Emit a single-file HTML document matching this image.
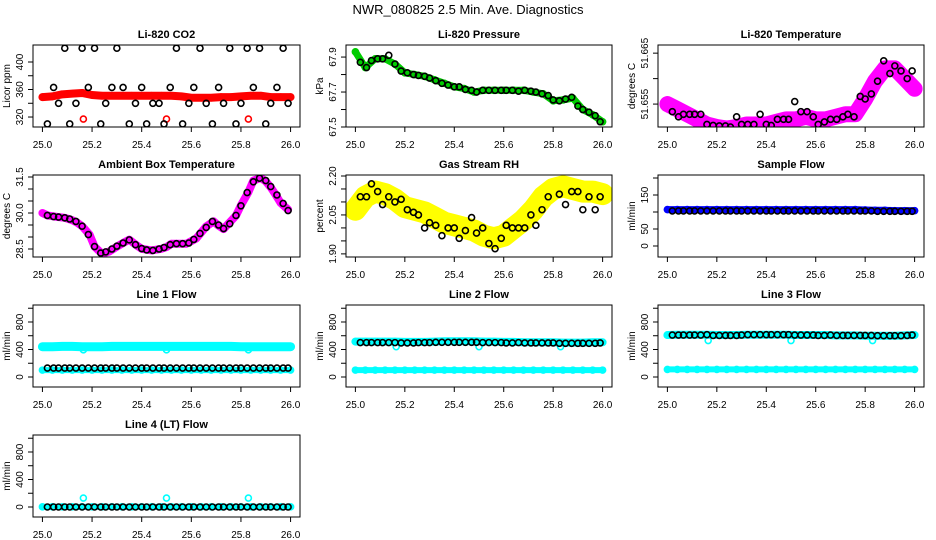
<!DOCTYPE html>
<html><head><meta charset="utf-8"><style>
html,body{margin:0;padding:0;background:#fff;}
svg{display:block;font-family:"Liberation Sans",sans-serif;}
</style></head><body>
<svg id="chart" width="936" height="540" viewBox="0 0 936 540" xmlns="http://www.w3.org/2000/svg">
<text x="468" y="14" text-anchor="middle" font-size="13">NWR_080825  2.5 Min. Ave. Diagnostics</text>
</svg>
<script>
// shared x values (days)
const cT = [25.00,25.04,25.08,25.12,25.16,25.20,25.24,25.28,25.32,25.36,25.40,25.44,25.48,25.52,25.56,25.60,25.64,25.68,25.72,25.76,25.80,25.84,25.88,25.92,25.96,26.00];
const blackT = [25.02,25.045,25.065,25.09,25.11,25.135,25.16,25.185,25.21,25.235,25.255,25.28,25.30,25.325,25.35,25.375,25.40,25.42,25.445,25.47,25.49,25.515,25.54,25.565,25.59,25.61,25.635,25.66,25.685,25.71,25.73,25.755,25.78,25.80,25.825,25.85,25.875,25.90,25.92,25.945,25.97,25.99];
const xTicks = [25.0,25.2,25.4,25.6,25.8,26.0];
const xTickLabels = ["25.0","25.2","25.4","25.6","25.8","26.0"];
const outlierT = [25.165,25.50,25.83];

// CO2
const co2Red = [349,350,353,354,355,352,351,351,351,351,351,351,351,351,350,348,348,348,349,349,350,351,351,349,349,349];
const co2RedOut = [317,317,317];
const co2Black = [310,363,340,420,310,340,420,363,420,310,340,363,420,363,310,340,363,310,340,340,310,363,420,310,340,363,420,340,310,363,340,420,310,340,420,363,420,310,340,363,420,340];
// Pressure
const presGreen = [67.93,67.84,67.89,67.89,67.86,67.81,67.80,67.79,67.77,67.75,67.73,67.72,67.70,67.71,67.71,67.71,67.71,67.71,67.70,67.69,67.65,67.655,67.665,67.60,67.57,67.53];
const presBlack = [67.87,67.84,67.88,67.89,67.89,67.91,67.86,67.82,67.81,67.80,67.795,67.79,67.78,67.765,67.75,67.74,67.73,67.73,67.715,67.71,67.70,67.71,67.71,67.71,67.71,67.71,67.71,67.705,67.71,67.705,67.70,67.69,67.68,67.655,67.65,67.66,67.67,67.62,67.60,67.585,67.565,67.53];
// Li-820 temperature
const ltMag = [51.655,51.654,51.653,51.652,51.651,51.6505,51.6502,51.6505,51.651,51.651,51.651,51.6515,51.652,51.652,51.6525,51.652,51.652,51.6525,51.653,51.653,51.656,51.6595,51.662,51.662,51.660,51.658];
const ltBlack = [51.6535,51.6525,51.653,51.653,51.653,51.653,51.651,51.6508,51.6507,51.6507,51.6505,51.6525,51.651,51.651,51.651,51.653,51.651,51.6508,51.652,51.652,51.652,51.6555,51.6535,51.6535,51.6525,51.651,51.6515,51.652,51.652,51.6525,51.653,51.6525,51.6565,51.656,51.657,51.6595,51.6635,51.661,51.6625,51.6615,51.660,51.6615];
// Ambient box temperature
const ambT = [25.00,25.02,25.05,25.09,25.12,25.14,25.16,25.19,25.21,25.24,25.27,25.30,25.33,25.35,25.38,25.40,25.44,25.48,25.50,25.52,25.58,25.62,25.64,25.66,25.69,25.71,25.73,25.75,25.78,25.80,25.83,25.85,25.88,25.90,25.92,25.94,25.96,25.99];
const ambMag = [30.0,29.9,29.85,29.8,29.7,29.6,29.45,29.1,28.6,28.3,28.4,28.6,28.78,28.89,28.65,28.51,28.44,28.51,28.58,28.72,28.72,28.94,29.19,29.44,29.65,29.47,29.33,29.56,29.89,30.32,30.87,31.35,31.46,31.32,31.07,30.76,30.42,30.14];
const ambBlack = [29.9,29.85,29.83,29.8,29.75,29.65,29.45,29.1,28.6,28.33,28.38,28.5,28.62,28.75,28.88,28.68,28.52,28.46,28.44,28.5,28.56,28.68,28.72,28.72,28.75,28.9,29.15,29.4,29.65,29.5,29.35,29.55,29.9,30.3,30.85,31.3,31.45,31.35,31.1,30.75,30.4,30.1];
// Gas stream RH
const rhYel = [2.07,2.12,2.14,2.13,2.11,2.08,2.07,2.06,2.04,2.02,2.01,2.00,1.99,1.97,1.96,1.97,2.00,2.03,2.07,2.12,2.15,2.16,2.15,2.14,2.14,2.13];
const rhBlack = [2.12,2.12,2.17,2.14,2.09,2.12,2.10,2.11,2.07,2.06,2.05,2.00,2.02,2.01,1.97,2.00,2.00,1.96,1.99,2.04,1.98,2.00,1.94,1.92,1.96,2.01,2.00,2.00,2.00,2.05,2.01,2.07,2.12,2.24,2.13,2.09,2.14,2.14,2.07,2.12,2.07,2.12];
// Sample flow
const sfBlue = [107,107,107,107,107,107,107,107,107,107,107,107,107,107,107,107,107,107,107,107,106,105,105,104,104,104];
const sfBlack = [103,103,103,103,103,103,103,103,103,103,103,103,103,103,103,103,103,103,103,103,103,103,103,103,103,103,103,103,103,103,103,103,103,103,103,102,102,102,102,102,102,102];
// Line flows
const l1CyanHi = [440,440,445,445,440,440,440,445,445,445,445,445,445,445,445,445,445,445,445,445,440,440,440,440,440,440];
const l1CyanLo = [100,100,100,100,100,100,100,100,100,100,100,100,100,100,100,100,100,100,100,100,100,100,100,100,100,100];
const l1CyanOut = [395,395,395];
const l1Black = Array.from(blackT, () => 0).map((_, i) => [130,130,130,130,130,130,130,130,130,130,130,130,130,130,130,130,130,130,130,130,130,130,130,130,130,130,130,130,130,130,130,130,130,130,130,130,130,130,130,130,130,130][i]);
const l2CyanHi = [515,515,515,515,515,510,510,510,515,520,520,520,520,515,515,510,510,505,505,505,505,500,500,500,505,505];
const l2CyanLo = [100,100,100,100,100,100,100,100,100,100,100,100,100,100,100,100,100,100,100,100,100,100,100,100,100,100];
const l2CyanOut = [440,440,440];
const l2Black = [500,500,500,500,500,500,500,495,495,495,500,500,500,505,505,505,505,505,505,505,505,500,500,500,500,495,495,500,495,495,495,495,495,495,490,490,490,490,490,490,490,495];
const l3CyanHi = [610,615,615,615,615,610,610,610,615,615,615,615,615,610,610,610,610,605,605,605,600,600,600,600,605,610];
const l3CyanLo = [110,110,110,110,110,110,110,110,110,110,110,110,110,110,110,110,110,110,110,110,110,110,110,110,110,110];
const l3CyanOut = [530,530,530];
const l3Black = [610,610,610,610,610,610,615,605,605,605,605,605,610,615,615,615,615,615,615,615,615,610,610,610,610,605,605,610,605,605,605,605,605,605,605,600,600,600,600,600,605,610];
const l4Cyan = [2,2,2,2,2,2,2,2,2,2,2,2,2,2,2,2,2,2,2,2,2,2,2,2,2,2];
const l4CyanOut = [130,130,130];
const l4Black = [0,0,0,0,0,0,0,0,0,0,0,0,0,0,0,0,0,0,0,0,0,0,0,0,0,0,0,0,0,0,0,0,0,0,0,0,0,0,0,0,0,0];

const NS = "http://www.w3.org/2000/svg";
const svg = document.getElementById("chart");
function mk(tag, attrs, parent) {
  const e = document.createElementNS(NS, tag);
  for (const k in attrs) e.setAttribute(k, attrs[k]);
  (parent || svg).appendChild(e);
  return e;
}
const cols = [[33,300],[346,612],[658,924]];
const rows = [[45,127],[175,257],[305,387],[435,517]];

function panel(p) {
  const [x0, x1] = cols[p.col], [y0, y1] = rows[p.row];
  const g = mk("g", {});
  
  
  const xs = v => x0 + (v - 24.962) / (26.038 - 24.962) * (x1 - x0);
  const ys = v => y1 - (v - p.ymin) / (p.ymax - p.ymin) * (y1 - y0);
  const t = mk("text", {x: (x0 + x1) / 2, y: y0 - 7, "text-anchor": "middle", "font-size": 11, "font-weight": "bold"}, g);
  t.textContent = p.title;
  
  
  const clip = mk("clipPath", {id: "c" + p.name}, g);
  mk("rect", {x: x0, y: y0, width: x1 - x0, height: y1 - y0}, clip);
  const pg = mk("g", {"clip-path": "url(#c" + p.name + ")"}, g);
  p.series.forEach(s => {
    const pts = s.t.map((tv, i) => [xs(tv), ys(s.v[i])]);
    if (s.band) {
      const pl = mk("polyline", {points: pts.map(q => q.join(",")).join(" "), fill: "none", stroke: s.color, "stroke-width": s.band, "stroke-linejoin": "round", "stroke-linecap": "round"}, pg);
      
      
    }
    if (s.circles !== false) pts.forEach(q => {
      const c = mk("circle", {cx: q[0], cy: q[1], r: 3, fill: "none", stroke: s.color, "stroke-width": 1.6}, pg);
      
      
    });
  });
  const box = mk("rect", {x: x0, y: y0, width: x1 - x0, height: y1 - y0, fill: "none", stroke: "#000", "stroke-width": 1}, g);
  
  
  xTicks.forEach((v, i) => {
    mk("line", {x1: xs(v), x2: xs(v), y1: y1, y2: y1 + 5, stroke: "#000"}, g);
    const tl = mk("text", {x: xs(v), y: y1 + 21, "text-anchor": "middle", "font-size": 10}, g);
    tl.textContent = xTickLabels[i];
    
    
  });
  p.yTicks.forEach(v => {
    mk("line", {x1: x0 - 5, x2: x0, y1: ys(v), y2: ys(v), stroke: "#000"}, g);
  });
  p.yLabels.forEach(v => {
    const tl = mk("text", {x: 0, y: 0, "text-anchor": "middle", "font-size": 10, transform: `translate(${x0 - 10},${ys(v)}) rotate(-90)`}, g);
    tl.textContent = v.toFixed(p.dec);
    
    
  });
  const yt = mk("text", {x: 0, y: 0, "text-anchor": "middle", "font-size": 10, transform: `translate(${x0 - 23},${(y0 + y1) / 2}) rotate(-90)`}, g);
  yt.textContent = p.ytitle;
  
  
}

panel({name: "co2-panel", title: "Li-820 CO2", ytitle: "Licor ppm", col: 0, row: 0, ymin: 305.5, ymax: 424.7,
  yTicks: [320,340,360,380,400], yLabels: [320,360,400], dec: 0,
  series: [
    {name: "co2-red", t: cT, v: co2Red, color: "#ff0000", band: 8},
    {name: "co2-red-outlier", t: outlierT, v: co2RedOut, color: "#ff0000"},
    {name: "co2-black", t: blackT, v: co2Black, color: "#000"}]});
panel({name: "pressure-panel", title: "Li-820 Pressure", ytitle: "kPa", col: 1, row: 0, ymin: 67.5, ymax: 67.969,
  yTicks: [67.5,67.6,67.7,67.8,67.9], yLabels: [67.5,67.7,67.9], dec: 1,
  series: [
    {name: "pressure-green", t: cT, v: presGreen, color: "#00cc00", band: 7},
    {name: "pressure-black", t: blackT, v: presBlack, color: "#000"}]});
panel({name: "li-temp-panel", title: "Li-820 Temperature", ytitle: "degrees C", col: 2, row: 0, ymin: 51.6505, ymax: 51.6666,
  yTicks: [51.655,51.660,51.665], yLabels: [51.655,51.665], dec: 3,
  series: [
    {name: "li-temp-magenta", t: cT, v: ltMag, color: "#ff00ff", band: 16},
    {name: "li-temp-black", t: blackT, v: ltBlack, color: "#000"}]});
panel({name: "ambient-panel", title: "Ambient Box Temperature", ytitle: "degrees C", col: 0, row: 1, ymin: 28.167, ymax: 31.583,
  yTicks: [28.5,29.0,29.5,30.0,30.5,31.0,31.5], yLabels: [28.5,30.0,31.5], dec: 1,
  series: [
    {name: "ambient-magenta", t: ambT, v: ambMag, color: "#ff00ff", band: 8},
    {name: "ambient-black", t: blackT, v: ambBlack, color: "#000"}]});
panel({name: "rh-panel", title: "Gas Stream RH", ytitle: "percent", col: 1, row: 1, ymin: 1.888, ymax: 2.2038,
  yTicks: [1.90,1.95,2.00,2.05,2.10,2.15,2.20], yLabels: [1.90,2.05,2.20], dec: 2,
  series: [
    {name: "rh-yellow", t: cT, v: rhYel, color: "#ffff00", band: 22},
    {name: "rh-black", t: blackT, v: rhBlack, color: "#000"}]});
panel({name: "sample-flow-panel", title: "Sample Flow", ytitle: "ml/min", col: 2, row: 1, ymin: -32.4, ymax: 208.8,
  yTicks: [0,50,100,150,200], yLabels: [0,50,150], dec: 0,
  series: [
    {name: "sample-blue", t: cT, v: sfBlue, color: "#0000ff", band: 7},
    {name: "sample-black", t: blackT, v: sfBlack, color: "#000"}]});
const flowY = {ymin: -145.5, ymax: 1047, yTicks: [0,200,400,600,800,1000], yLabels: [0,400,800], dec: 0, ytitle: "ml/min"};
panel(Object.assign({name: "line1-panel", title: "Line 1 Flow", col: 0, row: 2, series: [
    {name: "line1-cyan-hi", t: cT, v: l1CyanHi, color: "#00ffff", band: 9},
    {name: "line1-cyan-lo", t: cT, v: l1CyanLo, color: "#00ffff", band: 6},
    {name: "line1-cyan-outlier", t: outlierT, v: l1CyanOut, color: "#00ffff"},
    {name: "line1-black", t: blackT, v: l1Black, color: "#000"}]}, flowY));
panel(Object.assign({name: "line2-panel", title: "Line 2 Flow", col: 1, row: 2, series: [
    {name: "line2-cyan-hi", t: cT, v: l2CyanHi, color: "#00ffff", band: 8},
    {name: "line2-cyan-lo", t: cT, v: l2CyanLo, color: "#00ffff", band: 6},
    {name: "line2-cyan-outlier", t: outlierT, v: l2CyanOut, color: "#00ffff"},
    {name: "line2-black", t: blackT, v: l2Black, color: "#000"}]}, flowY));
panel(Object.assign({name: "line3-panel", title: "Line 3 Flow", col: 2, row: 2, series: [
    {name: "line3-cyan-hi", t: cT, v: l3CyanHi, color: "#00ffff", band: 8},
    {name: "line3-cyan-lo", t: cT, v: l3CyanLo, color: "#00ffff", band: 6},
    {name: "line3-cyan-outlier", t: outlierT, v: l3CyanOut, color: "#00ffff"},
    {name: "line3-black", t: blackT, v: l3Black, color: "#000"}]}, flowY));
panel(Object.assign({name: "line4-panel", title: "Line 4 (LT) Flow", col: 0, row: 3, series: [
    {name: "line4-cyan", t: cT, v: l4Cyan, color: "#00ffff", band: 6},
    {name: "line4-cyan-outlier", t: outlierT, v: l4CyanOut, color: "#00ffff"},
    {name: "line4-black", t: blackT, v: l4Black, color: "#000"}]}, flowY));
</script>
</body></html>
